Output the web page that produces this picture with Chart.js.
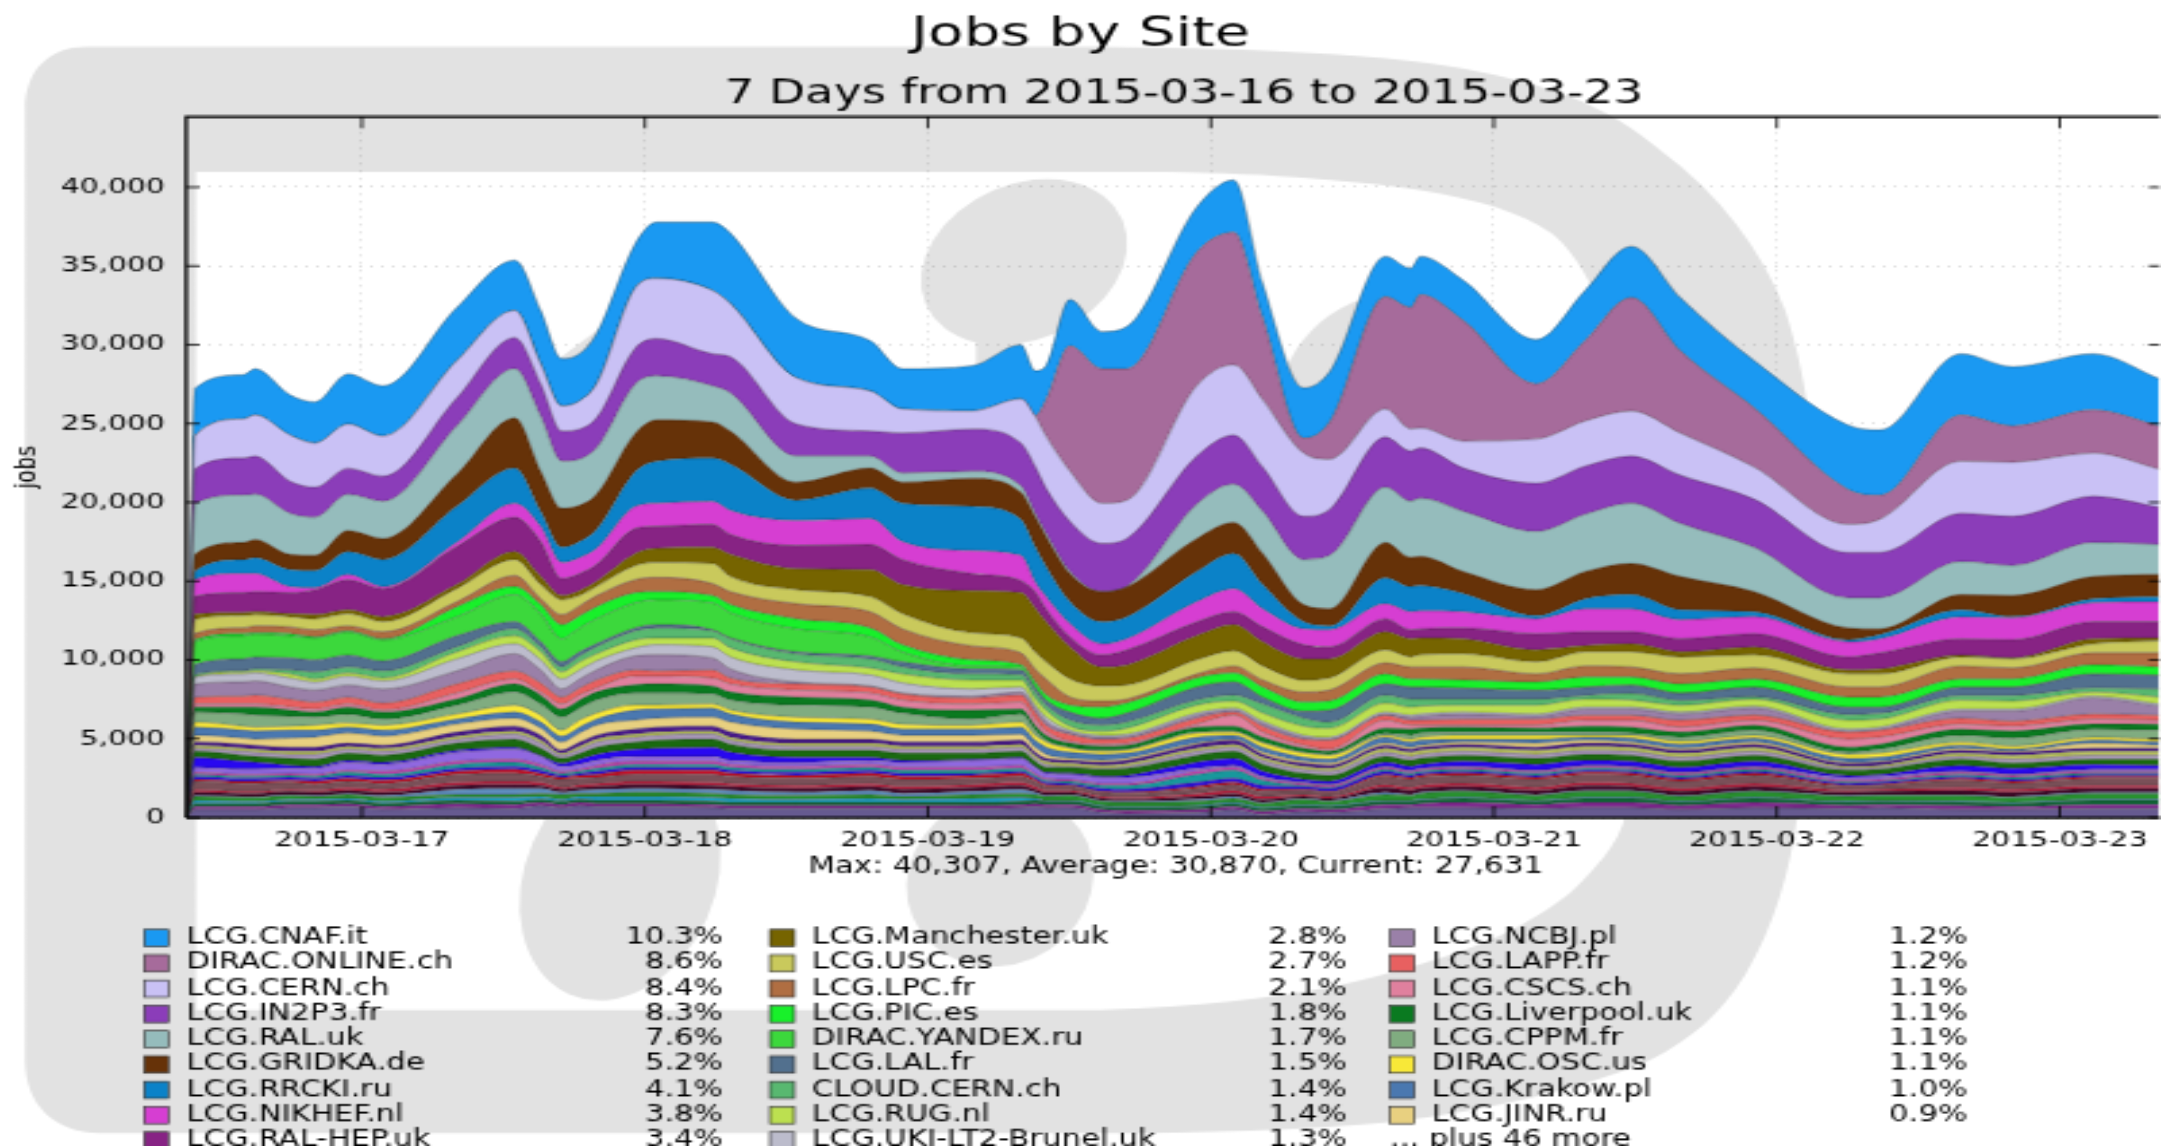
<!DOCTYPE html>
<html><head><meta charset="utf-8"><title>Jobs by Site</title>
<style>html,body{margin:0;padding:0;background:#fff;overflow:hidden;width:2161px;height:1146px}
canvas{display:block;width:2161px!important;height:1146px!important}</style>
<script src="https://cdn.jsdelivr.net/npm/chart.js@4/dist/chart.umd.min.js"></script>
</head><body><canvas id="c" width="800" height="600"></canvas>
<script>
const hours=[9.18,9.85,13.92,14.94,17.90,20.02,22.81,25.78,32.05,36.96,39.16,40.94,42.46,43.90,47.21,48.99,53.73,55.25,60.84,67.11,69.82,75.75,79.90,81.09,82.02,84.05,86.76,88.88,94.81,97.94,100.40,103.87,106.07,110.82,112.94,113.78,117.42,123.61,127.76,131.66,135.81,142.08,150.03,152.74,159.61,164.01,170.87,176.46];
const tickHours=[24,48,72,96,120,144,168];
const tickDates=["2015-03-17","2015-03-18","2015-03-19","2015-03-20","2015-03-21","2015-03-22","2015-03-23"];
const yTicks=[0,5000,10000,15000,20000,25000,30000,35000,40000];

const cnaf=[0,2994,2803,2930,2548,2612,3185,3185,3376,3185,3376,2994,2994,3185,2803,3567,4332,4459,3758,3185,2548,2867,3440,2867,2166,2930,2357,2675,2867,3312,2166,3185,3185,2548,2484,2421,2548,2803,3185,3249,3376,2994,4077,4141,3886,3758,3567,2994];
const diracOnline=[0,0,0,0,0,0,0,0,0,0,0,0,0,0,0,0,0,0,0,0,0,0,0,0,2293,7963,8536,8345,8472,8408,5223,956,2357,7134,7708,8472,7644,3504,5096,7198,5223,3758,2230,1529,2930,2293,2739,2739];
const cern=[0,2102,2484,2612,2930,2803,2803,2548,2357,1720,1274,1593,1784,2166,3822,3822,4013,3376,2930,2548,1529,1147,2803,3185,3312,3185,2548,2421,4459,4459,4268,4013,3185,1784,1401,1274,1720,2803,2867,2867,2675,2038,1784,2102,3312,3440,2739,2421];
const in2p3=[0,2230,2357,2421,2038,1911,1656,1593,1784,1975,2038,1911,1911,1911,2293,2357,2038,2293,2038,1593,2548,2675,2739,2994,2867,3185,3058,3058,3058,3121,2803,2739,2930,3185,3185,3185,2739,3058,3058,2994,3058,3058,2867,2867,3058,3121,2930,2357];
const ral=[0,3185,2994,2867,2612,2421,2293,2357,3058,3121,3504,2994,2930,2930,3121,2803,2293,2421,1656,764,573,446,382,191,191,127,0,0,2166,2421,2675,2867,3376,3504,3567,3695,3822,3695,3631,3822,3376,2803,1911,1975,2102,1911,2166,1911];
const gridka=[0,1083,1083,1147,956,956,1338,1338,2038,3185,2548,2484,2293,2230,2421,2612,2293,2102,1147,1274,1338,1784,1720,1911,1911,1784,1911,1911,2102,1975,1975,1083,1083,2230,1847,1847,1401,1656,1720,1975,2102,1274,764,382,956,1338,1401,1401];
const rrcki=[0,510,892,1019,1083,1083,1465,1720,2293,2230,956,956,1019,1210,2230,2675,2739,2930,1274,1911,2421,2803,2293,2230,1911,1401,1401,1401,1911,2230,1529,446,255,1656,1593,1593,1147,191,637,892,637,319,127,255,446,64,255,319];
const nikhef=[0,1083,1210,1147,382,127,319,127,255,892,956,1019,1019,1019,1401,1465,1465,1529,1593,1656,1147,1465,1593,637,764,828,701,701,1274,1465,1147,1019,1083,956,1147,1147,1019,956,1465,1465,1210,1083,956,892,1401,1401,1210,1274];
const ralHep=[0,1147,1274,1274,1338,1593,1911,1784,2421,2166,2230,1083,1083,1083,1593,1401,1465,1274,1465,1593,1593,1083,764,1019,828,637,764,956,892,828,956,892,764,828,573,573,701,1019,892,764,828,828,828,1019,1019,1147,1083,1019];
const manchester=[0,319,191,191,191,255,255,319,255,510,510,255,319,319,764,892,1019,1401,1338,1720,1847,2675,2867,2803,2548,2038,1210,1274,1529,1656,1529,1338,1210,1147,1147,1083,956,764,382,510,319,510,255,319,127,64,319,191];
const usc=[0,892,764,701,637,701,764,637,828,1019,892,956,637,573,892,956,1274,956,892,956,956,828,956,1083,1083,1147,956,892,892,956,892,764,764,828,637,764,828,764,892,956,1083,828,828,828,573,573,573,764];
const lpc=[0,382,382,446,446,446,319,446,319,701,382,637,637,701,828,892,764,828,956,1019,1019,892,764,828,1019,510,382,255,255,446,446,637,701,701,764,764,828,510,701,637,637,701,637,637,828,701,764,892];
const pic=[0,127,127,64,127,64,64,64,637,510,573,892,764,764,637,510,446,510,637,573,446,382,127,319,319,446,701,637,573,573,637,573,573,637,510,510,510,510,637,510,573,510,637,637,510,510,573,510];
const yandex=[0,1465,1465,1465,1401,1401,1465,1338,1210,1720,1784,1465,1529,1593,1593,1593,1720,1593,1465,1210,637,191,191,64,32,32,32,32,32,32,32,32,32,32,32,32,32,32,32,32,32,32,32,32,32,32,32,32];
const lal=[0,637,764,764,764,764,764,637,701,446,319,319,255,191,191,191,64,64,127,191,319,319,319,255,287,478,414,541,796,796,414,414,733,669,733,733,669,541,510,510,446,573,446,382,510,510,860,860];
const cloudCern=[0,127,64,127,255,446,382,446,319,446,319,319,382,446,573,637,446,573,510,573,446,382,319,382,319,382,382,382,319,382,573,510,382,510,510,446,382,382,223,414,287,159,350,350,287,350,255,510];
const rug=[0,32,127,127,255,191,191,191,446,510,510,446,510,446,510,446,573,573,510,446,573,573,446,446,446,255,255,382,510,446,510,573,573,573,510,510,446,573,510,446,446,446,573,510,573,510,255,446];
const brunel=[0,446,510,510,573,510,573,510,764,637,637,637,573,573,510,637,701,764,764,701,637,446,319,191,255,127,127,127,127,127,127,127,127,127,127,127,127,127,127,127,127,127,127,127,127,127,127,127];
const ncbj=[0,828,892,892,764,764,764,892,828,1083,828,510,573,637,892,1019,764,573,127,64,64,127,191,255,255,127,127,127,191,127,191,127,64,64,191,255,319,191,382,382,382,446,64,64,446,637,1019,573];
const lapp=[0,446,510,573,510,446,446,446,573,510,573,446,446,510,382,319,510,382,382,382,382,382,446,446,382,446,319,319,382,191,382,382,573,319,319,319,382,382,319,319,446,319,446,446,382,319,319,319];
const cscs=[0,191,191,191,191,191,191,127,382,319,191,319,319,255,573,510,510,510,446,446,446,382,446,382,255,127,127,127,191,701,319,191,127,510,255,191,127,191,382,446,319,319,510,446,319,319,319,255];
const liverpool=[0,319,446,510,382,319,446,446,382,510,573,510,510,510,510,573,510,510,510,446,382,573,319,319,319,255,255,255,319,319,319,255,191,319,382,319,319,255,382,382,319,319,319,319,382,446,319,382];
const cppm=[0,637,764,764,637,510,573,382,573,828,701,828,764,828,764,764,637,637,764,764,701,382,510,319,127,64,64,64,64,64,64,64,64,127,255,255,191,191,191,127,255,319,127,255,446,510,510,573];
const osc=[0,319,255,255,255,319,255,319,319,446,446,382,446,382,319,255,255,255,319,319,319,255,319,319,319,255,191,191,255,191,255,255,255,127,191,191,255,255,127,191,191,191,255,255,191,191,191,191];
const krakow=[0,510,510,510,510,446,382,382,319,382,382,382,382,382,637,573,573,510,446,446,382,382,446,446,446,382,382,319,382,255,319,255,255,382,319,319,191,255,191,255,255,255,255,255,191,127,191,191];
const jinr=[0,446,382,382,573,637,637,573,510,510,446,510,573,637,573,573,573,637,637,510,446,446,382,319,255,127,127,127,64,64,127,127,127,127,127,127,127,255,191,127,127,127,64,64,127,64,319,191];
// the 46 unlisted sites, read as 19 visible bands, top to bottom
const minorA=[0,191,255,255,255,255,191,191,255,319,319,191,255,255,319,319,319,319,255,255,255,255,255,191,191,191,191,191,255,255,191,191,191,191,191,191,191,191,191,191,191,191,191,191,191,191,191,191];
const minorB=[0,191,191,191,191,191,191,191,191,191,191,127,191,191,191,191,191,191,191,191,191,191,191,191,191,191,191,191,191,191,191,191,191,255,255,255,255,255,255,255,255,255,127,127,191,255,255,255];
const minorC=[0,191,255,255,255,319,255,255,255,319,319,191,255,319,319,319,319,255,255,255,255,255,255,191,191,64,64,127,255,255,255,255,255,255,255,255,255,255,255,255,255,255,127,127,191,255,255,255];
const minorD=[0,382,382,382,446,446,446,446,446,510,446,319,382,446,446,510,510,510,446,446,446,382,382,319,319,382,446,446,446,446,446,382,382,382,382,382,382,382,382,382,382,382,319,319,382,319,319,382];
const minorE=[0,637,510,446,191,127,127,127,127,127,64,191,319,382,446,510,573,510,319,191,127,64,64,64,64,64,64,127,382,446,319,191,191,255,255,255,319,382,319,319,319,319,127,127,382,382,319,255];
const minorF=[0,319,319,319,319,382,510,446,573,637,510,319,319,319,319,319,319,255,255,255,319,446,446,382,319,319,382,382,191,127,127,64,64,64,64,64,64,64,64,64,64,64,191,191,64,64,127,127];
const minorG=[0,127,127,127,127,127,127,191,191,191,191,127,127,191,191,191,191,191,191,191,191,191,191,127,127,127,127,127,191,191,127,127,127,127,127,127,127,127,127,127,127,127,127,127,127,127,127,127];
const minorH=[0,127,127,127,127,127,191,191,255,255,191,127,127,191,191,191,191,191,191,191,191,191,191,127,127,127,191,255,510,510,319,64,64,127,127,127,127,127,127,127,127,127,64,64,127,127,64,64];
const minorI=[0,191,191,191,191,191,191,191,191,191,191,127,127,191,191,191,191,191,191,191,191,127,127,127,127,127,191,191,255,255,255,191,191,191,127,127,127,127,127,127,127,127,127,127,127,127,127,127];
const minorJ=[0,127,127,127,127,191,191,191,191,255,191,127,191,191,255,255,255,191,191,191,191,191,191,127,127,64,64,64,127,127,127,64,64,127,127,127,127,127,127,127,127,127,64,64,127,127,127,127];
const minorK=[0,510,510,510,446,382,382,382,510,510,382,510,382,382,446,446,510,446,446,446,446,382,382,319,255,255,255,255,319,382,319,255,255,510,510,510,510,510,510,510,446,510,255,255,446,382,446,446];
const minorL=[0,191,127,127,127,127,191,191,191,191,191,127,191,191,191,191,191,191,191,191,191,191,191,191,127,127,127,127,191,191,191,127,127,191,191,191,191,191,191,191,191,191,127,127,191,191,191,191];
const minorM=[0,191,191,191,191,191,191,191,255,255,191,191,191,191,255,255,255,255,255,255,255,255,255,191,191,127,127,127,191,191,191,127,127,319,255,255,255,255,319,255,255,255,191,191,255,255,255,255];
const minorN=[0,64,64,64,64,64,64,127,319,382,319,127,191,255,255,255,255,255,191,255,191,191,255,127,64,64,64,64,127,127,64,64,64,127,64,64,64,64,64,64,64,64,64,64,64,64,64,64];
const minorO=[0,255,255,255,255,191,255,255,191,191,191,319,191,191,255,255,255,255,255,255,191,255,255,255,255,319,255,255,255,255,255,319,255,382,319,382,382,319,382,382,319,382,319,319,382,319,382,382];
const minorP=[0,191,127,127,127,127,127,127,191,255,191,127,191,255,255,255,255,255,191,255,191,255,255,127,64,64,64,64,64,64,64,64,64,64,64,64,64,64,64,64,64,64,64,64,64,64,64,64];
const minorQ=[0,191,191,191,191,191,191,191,191,191,191,191,191,191,191,191,191,191,191,191,191,191,191,191,191,191,191,191,191,191,191,191,191,191,191,191,255,191,255,255,191,255,191,191,191,191,255,255];
const minorR=[0,191,191,191,191,191,191,191,255,255,191,191,191,191,191,191,191,191,191,191,191,191,191,191,191,191,191,191,191,191,191,191,191,255,191,255,319,255,319,319,255,319,191,191,255,191,255,255];
const minorS=[0,510,510,510,637,637,701,510,637,573,764,637,764,701,701,701,637,573,573,573,573,573,637,701,637,637,319,255,319,510,191,382,319,573,637,637,637,573,637,637,510,637,573,637,510,510,573,573];

const legendNames=["LCG.CNAF.it","DIRAC.ONLINE.ch","LCG.CERN.ch","LCG.IN2P3.fr","LCG.RAL.uk","LCG.GRIDKA.de","LCG.RRCKI.ru","LCG.NIKHEF.nl","LCG.RAL-HEP.uk","LCG.Manchester.uk","LCG.USC.es","LCG.LPC.fr","LCG.PIC.es","DIRAC.YANDEX.ru","LCG.LAL.fr","CLOUD.CERN.ch","LCG.RUG.nl","LCG.UKI-LT2-Brunel.uk","LCG.NCBJ.pl","LCG.LAPP.fr","LCG.CSCS.ch","LCG.Liverpool.uk","LCG.CPPM.fr","DIRAC.OSC.us","LCG.Krakow.pl","LCG.JINR.ru"];
const legendPercents=["10.3%","8.6%","8.4%","8.3%","7.6%","5.2%","4.1%","3.8%","3.4%","2.8%","2.7%","2.1%","1.8%","1.7%","1.5%","1.4%","1.4%","1.3%","1.2%","1.2%","1.1%","1.1%","1.1%","1.1%","1.0%","0.9%"];
const legendColors=["#1a99f2","#a66b9b","#c9c1f5","#8b3db9","#95bcbc","#663208","#0b82c8","#d63ed2","#872384","#766400","#c9c95c","#b06e42","#18f02a","#3cd83c","#52708e","#58b870","#bce050","#bcbccc","#9a80a8","#e86060","#e0809e","#0a7a20","#80ac80","#f8e838","#4a78b0","#e8d080"];
const legendMore="... plus 46 more";
const statsText="Max: 40,307, Average: 30,870, Current: 27,631";
const titleText="Jobs by Site", subtitleText="7 Days from 2015-03-16 to 2015-03-23", yLabel="jobs";

const namedValues=[cnaf,diracOnline,cern,in2p3,ral,gridka,rrcki,nikhef,ralHep,manchester,usc,lpc,pic,yandex,lal,cloudCern,rug,brunel,ncbj,lapp,cscs,liverpool,cppm,osc,krakow,jinr];
const minorValues=[minorA,minorB,minorC,minorD,minorE,minorF,minorG,minorH,minorI,minorJ,minorK,minorL,minorM,minorN,minorO,minorP,minorQ,minorR,minorS];
const minorColors=["#4a1a8c","#b8c060","#a898b8","#1a6a10","#2808f0","#9068e0","#c848b8","#18989c","#3010e0","#c81028","#7a5058","#c02040","#400828","#6090c0","#289030","#20a0c0","#106a38","#802890","#665a90"];
const minorNames=["minor A","minor B","minor C","minor D","minor E","minor F","minor G","minor H","minor I","minor J","minor K","minor L","minor M","minor N","minor O","minor P","minor Q","minor R","minor S"];

const allNames=legendNames.concat(minorNames).reverse();
const allValues=namedValues.concat(minorValues).reverse();
const allColors=legendColors.concat(minorColors).reverse();
const datasets=allNames.map((n,i)=>({label:n,data:allValues[i].map((v,j)=>({x:hours[j],y:v})),backgroundColor:allColors[i],borderColor:'rgba(35,35,35,0.55)',borderWidth:0.5,pointRadius:0,fill:i===0?'origin':'-1',cubicInterpolationMode:'monotone'}));

const FONT='"DejaVu Sans"';
const SX=800/2161, SY=600/1146;
const watermark={id:'watermark',beforeDraw(c){const g=c.ctx;g.save();g.scale(SX,SY);g.fillStyle='#e2e2e2';
 const p=new Path2D("M85 47 L1060 47 C1250 47 1400 55 1481 72 C1560 88 1610 108 1660 150 C1720 195 1762 250 1785 310 C1805 370 1818 450 1820 560 C1820 660 1812 760 1797 818 C1790 870 1775 925 1745 975 C1720 1015 1690 1040 1650 1060 C1580 1090 1490 1110 1390 1122 C1300 1130 1200 1133 1100 1133 L100 1133 C55 1133 25 1105 25 1060 L25 110 C25 70 50 47 85 47 Z M196 172 L196 1010 L1100 1010 C1200 1007 1270 998 1340 985 C1440 962 1510 940 1570 893 C1605 860 1625 835 1628 800 C1632 700 1632 500 1620 380 C1610 310 1580 255 1551 233 C1520 212 1480 200 1420 190 C1350 180 1250 172 1150 172 Z");
 g.fill(p,'evenodd');
 const blob=(x,y,a,b,r)=>{g.beginPath();g.ellipse(x,y,a,b,r,0,Math.PI*2);g.fill();};
 blob(1024,262,107,78,-0.4);blob(1000,880,95,85,-0.4);blob(620,880,125,95,-1.15);blob(1400,420,125,127,0);
 g.beginPath();g.moveTo(976,325);g.lineTo(1022,325);g.lineTo(1022,400);g.lineTo(976,400);g.fill();
 g.beginPath();g.moveTo(561,357);g.lineTo(600,328);g.lineTo(640,370);g.lineTo(580,400);g.fill();
 g.restore();}};
const texts={id:'texts',afterDraw(c){const g=c.ctx,X=c.scales.x,Y=c.scales.y,A=c.chartArea;g.save();
 g.strokeStyle='#000';g.lineWidth=1.25;g.beginPath();g.moveTo(A.left,A.bottom);g.lineTo(A.left,A.top);g.lineTo(A.right,A.top);g.moveTo(A.left,A.bottom);g.lineTo(A.right,A.bottom);g.stroke();
 g.lineWidth=0.8;g.beginPath();
 tickHours.forEach(h=>{const x=X.getPixelForValue(h);g.moveTo(x,A.top);g.lineTo(x,A.top+6);g.moveTo(x,A.bottom);g.lineTo(x,A.bottom-6);});
 yTicks.forEach(v=>{const y=Y.getPixelForValue(v);g.moveTo(A.left,y);g.lineTo(A.left+5,y);g.moveTo(A.right-4,y);g.lineTo(A.right,y);});
 g.stroke();
 g.fillStyle='#000';g.textBaseline='middle';g.textAlign='center';
 g.font='17.3px '+FONT;g.fillText(subtitleText,438.3,50);
 g.font='11.5px '+FONT;g.fillText(statsText,435.2,454.5);
 const cols=[{sw:53.3,tx:68.9,pr:267.6},{sw:285,tx:300.6,pr:498.5},{sw:514.6,tx:530,pr:728.3}];
 g.font='11.4px '+FONT;
 legendNames.forEach((n,i)=>{const k=Math.floor(i/9),r=i%9,C=cols[k],y=491.1+r*13.25;
  g.fillStyle=legendColors[i];g.fillRect(C.sw,y-4.4,9,8.8);g.strokeStyle='#333';g.lineWidth=0.6;g.strokeRect(C.sw,y-4.4,9,8.8);
  g.fillStyle='#000';g.textAlign='left';g.fillText(n,C.tx,y);g.textAlign='right';g.fillText(legendPercents[i],C.pr,y);});
 g.textAlign='left';g.fillText(legendMore,cols[2].sw,491.1+8*13.25);
 g.restore();}};
new Chart(document.getElementById('c'),{type:'line',data:{datasets},plugins:[watermark,texts],options:{
 responsive:false,animation:false,devicePixelRatio:1,events:[],
 layout:{padding:0},
 elements:{line:{borderJoinStyle:'round'}},
 plugins:{legend:{display:false},tooltip:{enabled:false},
  title:{display:true,text:titleText,color:'#000',font:{family:FONT,size:21.5,weight:'normal'},padding:{top:5.7,bottom:29.7}}},
 scales:{
  x:{type:'linear',min:9.09,max:176.46,
     afterBuildTicks:s=>{s.ticks=tickHours.map(v=>({value:v}));},
     afterFit:s=>{s.height=172;},
     border:{display:false,dash:[1,3]},
     grid:{drawTicks:false,color:'rgba(110,110,110,0.32)',lineWidth:0.7},
     ticks:{autoSkip:false,maxRotation:0,padding:5,color:'#000',font:{family:FONT,size:11.2},callback:v=>tickDates[tickHours.indexOf(v)]}},
  y:{stacked:true,min:0,max:44460,
     afterBuildTicks:s=>{s.ticks=yTicks.map(v=>({value:v}));},
     afterFit:s=>{s.width=68.9;},
     border:{display:false,dash:[1,3]},
     grid:{drawTicks:false,color:'rgba(110,110,110,0.32)',lineWidth:0.7},
     title:{display:true,text:yLabel,color:'#000',font:{family:FONT,size:11},padding:{top:4,bottom:0}},
     ticks:{padding:8,color:'#000',font:{family:FONT,size:11},callback:v=>v.toLocaleString('en-US')}}
 }}});
</script></body></html>
